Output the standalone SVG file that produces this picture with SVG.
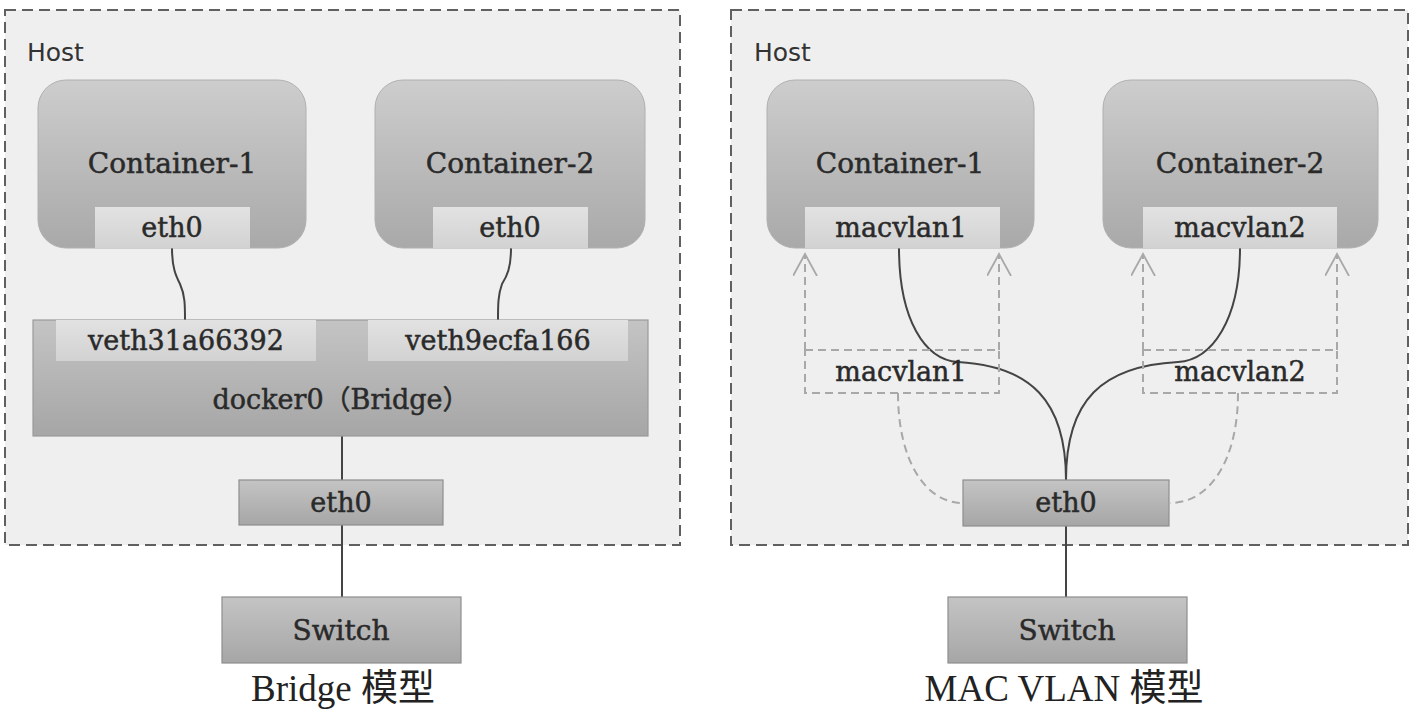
<svg xmlns="http://www.w3.org/2000/svg" width="1414" height="728" viewBox="0 0 1414 728">
<defs>
<linearGradient id="gCont" x1="0" y1="0" x2="0" y2="1"><stop offset="0" stop-color="#cdcdcd"/><stop offset="1" stop-color="#a9a9a9"/></linearGradient>
<linearGradient id="gPort" x1="0" y1="0" x2="0" y2="1"><stop offset="0" stop-color="#e2e2e2"/><stop offset="1" stop-color="#d2d2d2"/></linearGradient>
<linearGradient id="gBox" x1="0" y1="0" x2="0" y2="1"><stop offset="0" stop-color="#c4c4c4"/><stop offset="1" stop-color="#a6a6a6"/></linearGradient>
<marker id="arr" markerUnits="userSpaceOnUse" markerWidth="30" markerHeight="30" refX="22" refY="12" orient="auto">
<path d="M0,0 L22,12 L0,24" fill="none" stroke="#a8a8a8" stroke-width="1.8"/>
</marker>
</defs>
<style>
.host{fill:#efefef;stroke:#606060;stroke-width:2;stroke-dasharray:11,6}
.cont{fill:url(#gCont);stroke:#b0b0b0;stroke-width:1}
.port{fill:url(#gPort);stroke:none}
.box{fill:url(#gBox);stroke:#8e8e8e;stroke-width:1.2}
.lbl{font-family:"DejaVu Serif","Noto Sans CJK SC",serif;fill:#2a2a2a;stroke:#2a2a2a;stroke-width:0.5;text-anchor:middle}
.big{font-size:28px}
.mid{font-size:27px}
.hostt{font-family:"DejaVu Sans",sans-serif;font-size:25px;fill:#333}
.cap{font-family:"Liberation Serif","Noto Sans CJK SC",serif;font-size:37px;fill:#222;text-anchor:middle}
.wire{fill:none;stroke:#444;stroke-width:2}
.dash{fill:none;stroke:#a8a8a8;stroke-width:2;stroke-dasharray:8,5}
.dbox{fill:none;stroke:#a8a8a8;stroke-width:2;stroke-dasharray:8,5}
</style>
<g id="host-left">
<rect class="host" x="5" y="10" width="675" height="535"/>
<text class="hostt" x="27" y="61">Host</text>
</g>
<g id="host-right">
<rect class="host" x="731" y="10" width="677" height="535"/>
<text class="hostt" x="754" y="61">Host</text>
</g>
<g id="connectors">
<path class="wire" d="M172,248 C172,268 176,276 180,284 C185,295 185,305 185,320"/>
<path class="wire" d="M511,248 C511,268 507,276 502,284 C498,295 498,305 498,320"/>
<line class="wire" x1="342" y1="436" x2="342" y2="480"/>
<line class="wire" x1="342" y1="525" x2="342" y2="597"/>
<path class="wire" d="M899,248 C899,320 925,360 958,362 C1030,366 1066,400 1066,480"/>
<path class="wire" d="M1240,248 C1240,320 1212,360 1178,362 C1102,366 1066,400 1066,480"/>
<line class="wire" x1="1066" y1="526" x2="1066" y2="597"/>
<line class="dash" x1="805" y1="350" x2="805" y2="254" marker-end="url(#arr)"/>
<line class="dash" x1="999" y1="350" x2="999" y2="254" marker-end="url(#arr)"/>
<line class="dash" x1="1143" y1="350" x2="1143" y2="254" marker-end="url(#arr)"/>
<line class="dash" x1="1337" y1="350" x2="1337" y2="254" marker-end="url(#arr)"/>
<path class="dash" d="M898,393 C898,460 925,503 963,503"/>
<path class="dash" d="M1238,393 C1238,460 1210,503 1170,503"/>
</g>
<g id="c1-left">
<rect class="cont" x="38" y="80" width="268" height="168" rx="28"/>
<text class="lbl big" x="172" y="173">Container-1</text>
</g>
<g id="c1-eth0">
<rect class="port" x="95" y="207" width="155" height="41"/>
<text class="lbl mid" x="172" y="237">eth0</text>
</g>
<g id="c2-left">
<rect class="cont" x="375" y="80" width="270" height="168" rx="28"/>
<text class="lbl big" x="510" y="173">Container-2</text>
</g>
<g id="c2-eth0">
<rect class="port" x="433" y="207" width="155" height="41"/>
<text class="lbl mid" x="510" y="237">eth0</text>
</g>
<g id="docker0">
<rect x="33" y="320" width="615" height="116" fill="url(#gBox)" stroke="#9a9a9a" stroke-width="1.2"/>
<text class="lbl mid" x="341" y="409">docker0（Bridge）</text>
</g>
<g id="veth1">
<rect class="port" x="56" y="320" width="260" height="41"/>
<text class="lbl mid" x="186" y="350">veth31a66392</text>
</g>
<g id="veth2">
<rect class="port" x="368" y="320" width="260" height="41"/>
<text class="lbl mid" x="498" y="350">veth9ecfa166</text>
</g>
<g id="eth0-left">
<rect class="box" x="239" y="480" width="204" height="45"/>
<text class="lbl mid" x="341" y="512">eth0</text>
</g>
<g id="switch-left">
<rect class="box" x="222" y="597" width="239" height="66"/>
<text class="lbl big" x="341" y="640">Switch</text>
</g>
<text class="cap" x="343" y="701">Bridge 模型</text>
<g id="c1-right">
<rect class="cont" x="767" y="80" width="267" height="168" rx="28"/>
<text class="lbl big" x="900" y="173">Container-1</text>
</g>
<g id="macvlan1">
<rect class="port" x="805" y="207" width="195" height="41"/>
<text class="lbl mid" x="901" y="237">macvlan1</text>
</g>
<g id="c2-right">
<rect class="cont" x="1103" y="80" width="275" height="168" rx="28"/>
<text class="lbl big" x="1240" y="173">Container-2</text>
</g>
<g id="macvlan2">
<rect class="port" x="1143" y="207" width="194" height="41"/>
<text class="lbl mid" x="1240" y="237">macvlan2</text>
</g>
<g id="macvlan1-virt">
<rect class="dbox" x="805" y="350" width="194" height="43"/>
<text class="lbl mid" x="901" y="381">macvlan1</text>
</g>
<g id="macvlan2-virt">
<rect class="dbox" x="1143" y="350" width="194" height="43"/>
<text class="lbl mid" x="1240" y="381">macvlan2</text>
</g>
<g id="eth0-right">
<rect class="box" x="963" y="480" width="206" height="46"/>
<text class="lbl mid" x="1066" y="512">eth0</text>
</g>
<g id="switch-right">
<rect class="box" x="948" y="597" width="239" height="66"/>
<text class="lbl big" x="1067" y="640">Switch</text>
</g>
<text class="cap" x="1064" y="701">MAC VLAN 模型</text>
</svg>
